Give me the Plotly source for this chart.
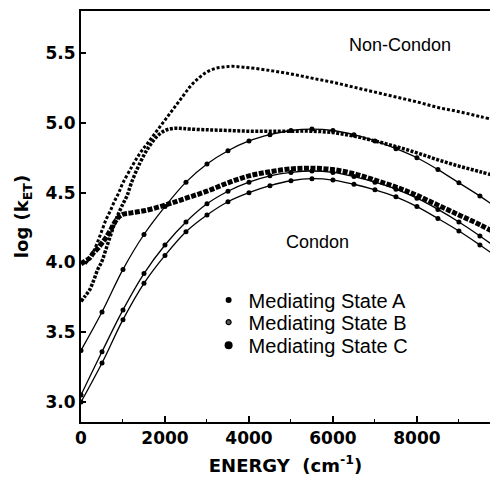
import plotly.graph_objects as go

# ---- Condon results (solid lines, markers every 500 cm-1) ----
energy_condon = [0, 500, 1000, 1500, 2000, 2500, 3000, 3500, 4000, 4500, 5000,
                 5500, 6000, 6500, 7000, 7500, 8000, 8500, 9000, 9500, 10000]
condon_b = [3.37, 3.645, 3.95, 4.20, 4.40, 4.575, 4.705, 4.80, 4.87, 4.915, 4.945,
            4.955, 4.945, 4.915, 4.87, 4.815, 4.75, 4.665, 4.57, 4.475, 4.37]
condon_c = [3.05, 3.36, 3.66, 3.92, 4.125, 4.29, 4.42, 4.51, 4.575, 4.62, 4.645,
            4.655, 4.645, 4.615, 4.575, 4.525, 4.46, 4.38, 4.29, 4.19, 4.08]
condon_a = [3.00, 3.28, 3.59, 3.85, 4.05, 4.22, 4.34, 4.435, 4.50, 4.55, 4.585,
            4.60, 4.59, 4.56, 4.52, 4.47, 4.40, 4.315, 4.225, 4.125, 4.02]

# ---- Non-Condon results (densely dotted curves) ----
energy_nc_a = [100, 200, 300, 400, 500, 600, 700, 800, 900, 1000, 1200, 1400, 1600,
               1800, 2000, 2200, 2400, 2600, 2800, 3000, 3200, 3400, 3600, 3800,
               4000, 4500, 5000, 5500, 6000, 6500, 7000, 7500, 8000, 8500, 9000,
               9500, 10000]
noncondon_a = [3.99, 4.03, 4.08, 4.15, 4.23, 4.31, 4.37, 4.44, 4.50, 4.57, 4.68, 4.78,
               4.86, 4.94, 5.02, 5.10, 5.18, 5.26, 5.32, 5.365, 5.39, 5.40, 5.405,
               5.40, 5.395, 5.375, 5.35, 5.32, 5.29, 5.255, 5.22, 5.185, 5.15, 5.11,
               5.08, 5.045, 5.01]

energy_nc_b = [0, 100, 200, 300, 400, 500, 600, 700, 800, 900, 1000, 1100, 1200,
               1400, 1600, 1800, 2000, 2200, 2400, 2600, 3000, 3500, 4000, 4500,
               5000, 5500, 6000, 6500, 7000, 7500, 8000, 8500, 9000, 9500, 10000]
noncondon_b = [3.72, 3.76, 3.80, 3.87, 3.95, 4.01, 4.10, 4.19, 4.28, 4.355, 4.42, 4.48,
               4.57, 4.71, 4.82, 4.90, 4.945, 4.96, 4.96, 4.955, 4.95, 4.945, 4.94,
               4.94, 4.94, 4.94, 4.93, 4.905, 4.87, 4.83, 4.785, 4.735, 4.69, 4.65,
               4.61]

energy_nc_c = [0, 100, 200, 300, 400, 500, 600, 700, 800, 900, 1000, 1200, 1500,
               2000, 2500, 3000, 3500, 4000, 4500, 5000, 5500, 6000, 6500, 7000,
               7500, 8000, 8500, 9000, 9500, 10000]
noncondon_c = [3.99, 4.01, 4.03, 4.07, 4.10, 4.14, 4.18, 4.23, 4.285, 4.325, 4.345,
               4.355, 4.37, 4.41, 4.46, 4.51, 4.57, 4.62, 4.65, 4.67, 4.675, 4.665,
               4.635, 4.59, 4.54, 4.48, 4.41, 4.34, 4.27, 4.19]

state_names = ["Mediating State A", "Mediating State B", "Mediating State C"]
x_ticks = [0, 2000, 4000, 6000, 8000]
y_ticks = [3.0, 3.5, 4.0, 4.5, 5.0, 5.5]

TEXT_FONT = "Liberation Sans, Arial, sans-serif"
BOLD_FONT = "DejaVu Sans, sans-serif"

fig = go.Figure()

# Condon curves
for vals in (condon_a, condon_b, condon_c):
    fig.add_trace(go.Scatter(
        x=energy_condon, y=vals, mode="lines+markers",
        line=dict(color="black", width=1.3, shape="spline"),
        marker=dict(size=5, color="black"),
        showlegend=False, hoverinfo="skip"))

# Non-Condon curves
fig.add_trace(go.Scatter(
    x=energy_nc_a, y=noncondon_a, mode="lines",
    line=dict(color="black", width=3, shape="spline", dash="3px,2px"),
    showlegend=False, hoverinfo="skip"))
fig.add_trace(go.Scatter(
    x=energy_nc_b, y=noncondon_b, mode="lines",
    line=dict(color="black", width=3.5, shape="spline", dash="3px,1.5px"),
    showlegend=False, hoverinfo="skip"))
fig.add_trace(go.Scatter(
    x=energy_nc_c, y=noncondon_c, mode="lines",
    line=dict(color="black", width=5, shape="spline", dash="5px,1.5px"),
    showlegend=False, hoverinfo="skip"))

# Legend entries: one marker style per mediating state
legend_markers = [
    dict(size=6, color="black", symbol="circle"),
    dict(size=5, color="#555", symbol="circle", line=dict(color="black", width=1.2)),
    dict(size=8, color="black", symbol="circle"),
]
legend_ids = ["legend", "legend2", "legend3"]
for name, mk, lid in zip(state_names, legend_markers, legend_ids):
    fig.add_trace(go.Scatter(
        x=[None], y=[None], mode="markers", name=name, marker=mk,
        legend=lid, showlegend=True))

def legend_box(ypos):
    return dict(x=0.312, y=ypos, xanchor="left", yanchor="middle",
                bgcolor="rgba(0,0,0,0)", borderwidth=0, itemwidth=30,
                font=dict(family=TEXT_FONT, size=20, color="black"))

fig.update_layout(
    width=490, height=478,
    margin=dict(l=81, r=0, t=11, b=56),
    paper_bgcolor="white", plot_bgcolor="white",
    legend=legend_box(0.297),
    legend2=legend_box(0.243),
    legend3=legend_box(0.187),
    annotations=[
        dict(x=7600, y=5.557, xref="x", yref="y", text="Non-Condon",
             showarrow=False, font=dict(family=TEXT_FONT, size=18, color="black")),
        dict(x=5640, y=4.146, xref="x", yref="y", text="Condon",
             showarrow=False, font=dict(family=TEXT_FONT, size=18, color="black")),
    ],
)

fig.update_xaxes(
    range=[0, 9740], tickvals=x_ticks, ticktext=[str(v) for v in x_ticks],
    ticks="inside", ticklen=6, tickwidth=1.5, tickcolor="black",
    minor=dict(dtick=1000, ticks="inside", ticklen=3, tickcolor="black", tickwidth=1),
    showline=True, linecolor="black", linewidth=2, mirror=True,
    showgrid=False, zeroline=False,
    tickfont=dict(family=BOLD_FONT, size=17, color="black", weight="bold"),
    title=dict(text="ENERGY  (cm<sup>-1</sup>)", standoff=12,
               font=dict(family=BOLD_FONT, size=18, color="black", weight="bold")),
)
fig.update_yaxes(
    range=[2.857, 5.801], tickvals=y_ticks, ticktext=[f"{v:.1f}" for v in y_ticks],
    ticks="inside", ticklen=5, tickwidth=1.5, tickcolor="black",
    showline=True, linecolor="black", linewidth=2, mirror=False,
    showgrid=False, zeroline=False,
    tickfont=dict(family=BOLD_FONT, size=17, color="black", weight="bold"),
    title=dict(text="log (k<sub>ET</sub>)", standoff=12,
               font=dict(family=BOLD_FONT, size=18, color="black", weight="bold")),
)

fig.write_html("out.html")
